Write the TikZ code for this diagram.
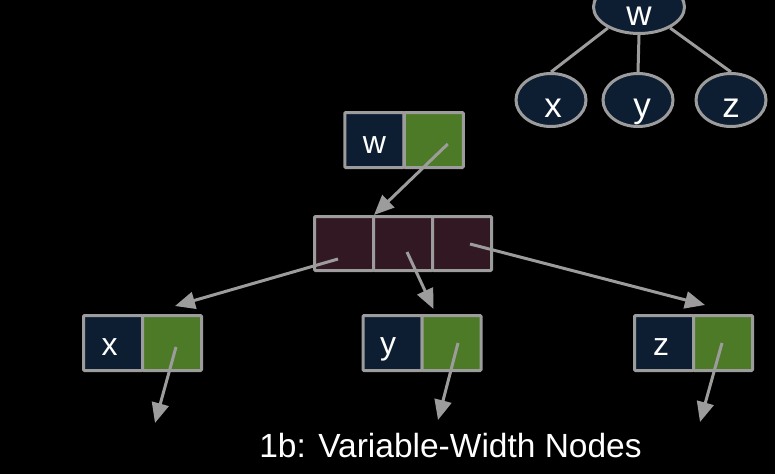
\documentclass[tikz,border=0pt]{standalone}
\usepackage{fontspec}
\setmainfont{Liberation Sans}
\usetikzlibrary{arrows.meta,shapes.geometric,calc}
\definecolor{navy}{HTML}{0D1E33}
\definecolor{leaf}{HTML}{4D7A26}
\definecolor{maroon}{HTML}{321822}
\definecolor{lgray}{HTML}{9C9C9C}
\begin{document}
\begin{tikzpicture}[x=1pt,y=-1pt,
  cell/.style={draw=lgray, line width=3pt, minimum width=59pt, minimum height=55pt, inner sep=0pt, rounded corners=1pt},
  keycell/.style={cell, fill=navy},
  ptrcell/.style={cell, fill=leaf},
  arrcell/.style={cell, fill=maroon},
  tnode/.style={ellipse, draw=lgray, line width=3pt, fill=navy, minimum width=70pt, minimum height=53pt, inner sep=0pt},
  lab/.style={text=white, anchor=base, inner sep=0pt, font=\fontsize{32}{36}\selectfont},
  tlab/.style={text=white, anchor=base, inner sep=0pt, text height=0.6em, text depth=0.2em, font=\fontsize{35}{40}\selectfont},
  treeline/.style={draw=lgray, line width=3pt},
  ptr/.style={draw=lgray, line width=3pt, -{Triangle[length=20pt,width=17pt]}},
  captext/.style={text=white, anchor=base, inner sep=0pt, font=\fontsize{33.5}{38}\selectfont}
]
\useasboundingbox (0,0) rectangle (775,474);
\fill[black] (0,0) rectangle (775,474);

% tree (top right)
\node[tnode, minimum width=91pt] (tw) at (639,7) {};
\node[tnode] (tx) at (551,100) {};
\node[tnode] (ty) at (638,100) {};
\node[tnode] (tz) at (731,100) {};
\draw[treeline] (tw.214) -- (tx.north);
\draw[treeline] (tw.south) -- (ty.north);
\draw[treeline] (tw.-34) -- (tz.north);
\node[tlab] (ltw) at (639,25) {w};
\node[tlab] (ltx) at (553,117) {x};
\node[tlab] (lty) at (642,117) {y};
\node[tlab] (ltz) at (731,117) {z};

% w record
\node[keycell] (wk) at (374.25,140) {};
\node[ptrcell] (wp) at (433.75,140) {};
\node[lab] (lw) at (374.5,153) {w};

% middle array
\node[arrcell, minimum height=54pt] (m1) at (344,243.5) {};
\node[arrcell, minimum height=54pt] (m2) at (403,243.5) {};
\node[arrcell, minimum height=54pt] (m3) at (462,243.5) {};

% x record
\node[keycell] (xk) at (113,343) {};
\node[ptrcell] (xp) at (172,343) {};
\node[lab] (lx) at (109.5,355) {x};
% y record
\node[keycell] (yk) at (392.5,343) {};
\node[ptrcell] (yp) at (451.5,343) {};
\node[lab] (ly) at (388,354) {y};
% z record
\node[keycell] (zk) at (664,343) {};
\node[ptrcell] (zp) at (723,343) {};
\node[lab] (lz) at (661,355) {z};

% free ends
\coordinate (xe) at (155,423);
\coordinate (ye) at (438,420);
\coordinate (ze) at (700,422);

% pointers
\draw[ptr] ($(wp.center)+(14,4)$) -- ($(m1.north east)+(-1,0)$);
\draw[ptr] ($(m1.center)+(-6,15.5)$) -- ($(xp.north)+(3,-8)$);
\draw[ptr] ($(m2.center)+(4,8.5)$) -- ($(yp.north)+(-18,-5)$);
\draw[ptr] ($(m3.center)+(8,0.5)$) -- ($(zp.north)+(-18,-9)$);
\draw[ptr] ($(xp.center)+(4,4)$) -- (xe);
\draw[ptr] ($(yp.center)+(6.5,0)$) -- (ye);
\draw[ptr] ($(zp.center)+(-1,0)$) -- (ze);

\node[captext] (title) at (450.5,457) {1b: Variable-Width Nodes};
\end{tikzpicture}
\end{document}
